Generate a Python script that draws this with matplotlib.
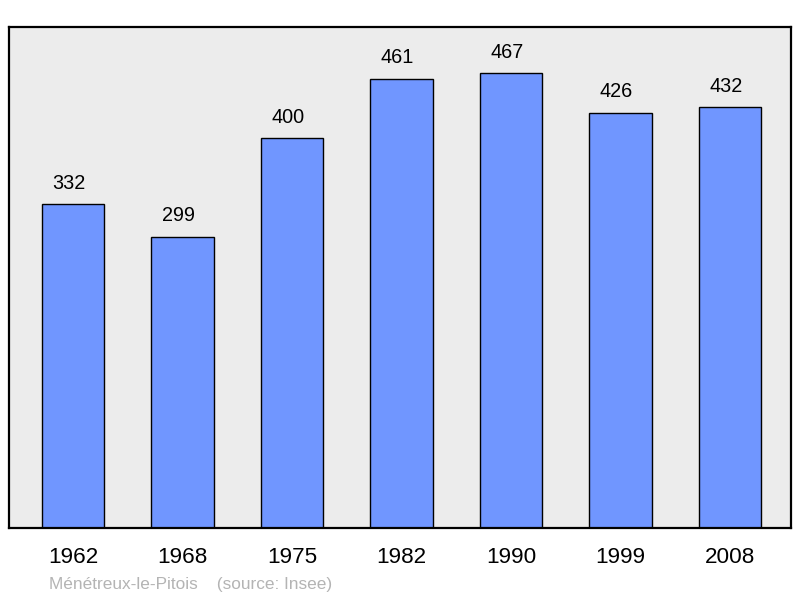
import matplotlib
matplotlib.use("Agg")
import matplotlib.pyplot as plt

years = ["1962", "1968", "1975", "1982", "1990", "1999", "2008"]
population = [332, 299, 400, 461, 467, 426, 432]

plt.rcParams['font.family'] = ['Liberation Sans', 'DejaVu Sans']

fig = plt.figure(figsize=(8, 5.98), dpi=100)
ax = fig.add_axes([9/800, 1 - 528/598, (791 - 9)/800, (528 - 27)/598])
ax.set_facecolor('#ececec')

x = list(range(len(years)))
bars = ax.bar(x, population, width=0.57, color='#7096ff', edgecolor='black', linewidth=1.0, zorder=2)
for xi, v in zip(x, population):
    ax.annotate(str(v), (xi, v), xytext=(-3, 11), textcoords='offset points',
                ha='center', va='baseline', fontsize=14.3, color='black')

ax.set_xlim(-0.584, len(years) - 1 + 0.557)
ax.set_ylim(0, 514)
ax.set_yticks([])
ax.set_xticks(x)
ax.set_xticklabels(years, fontsize=16.2)
ax.tick_params(axis='x', length=0, pad=14)
for s in ax.spines.values():
    s.set_linewidth(1.6)
    s.set_color('black')

fig.text(49/800, 1 - 585/598, "Ménétreux-le-Pitois    (source: Insee)", fontsize=12.4,
         color='#b4b4b4', ha='left', va='center')

fig.savefig('out.png', dpi=100)
